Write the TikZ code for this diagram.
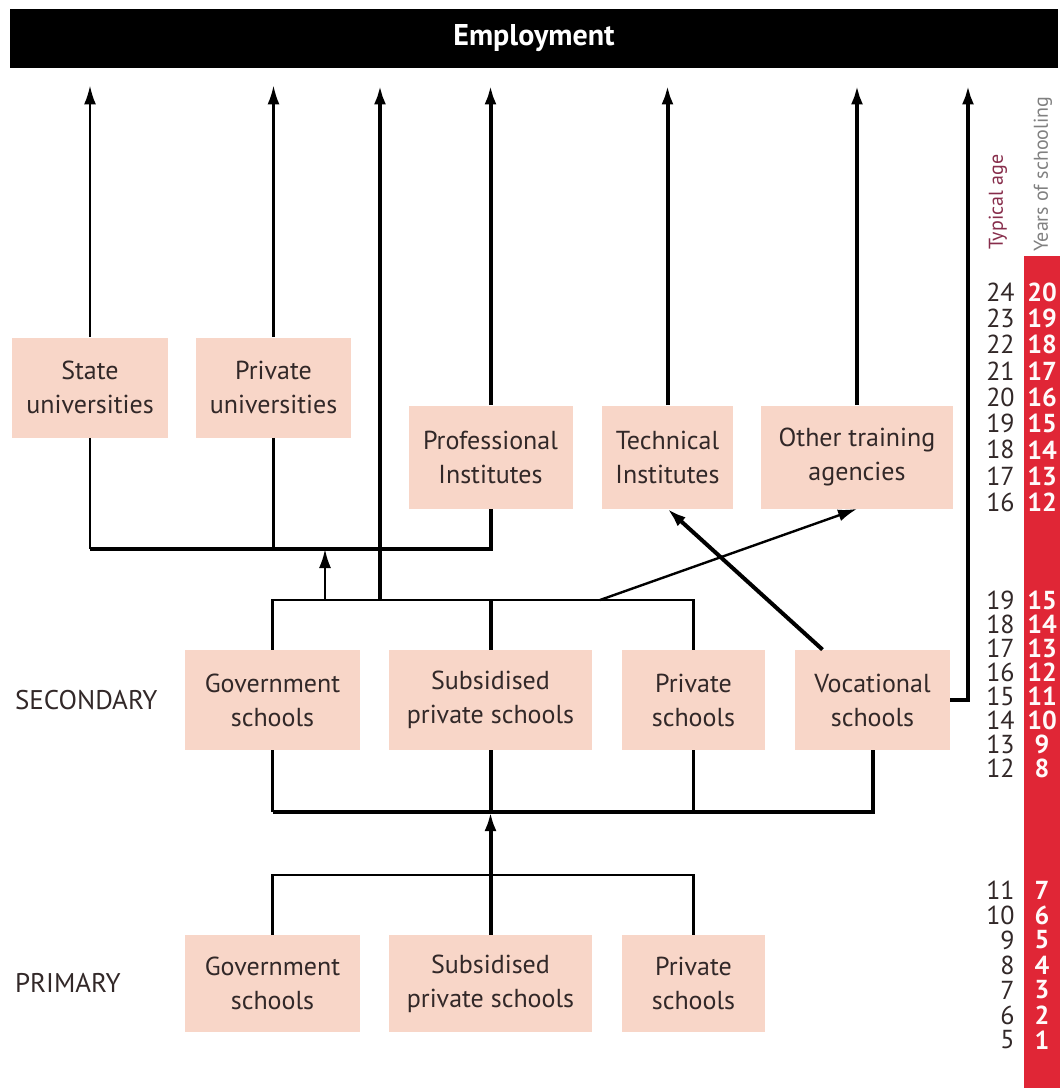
\documentclass[tikz,border=0pt]{standalone}
\usepackage{fontspec}
\setmainfont{PT Sans}
\usepackage{xcolor}
\usetikzlibrary{calc,arrows.meta,positioning}

\definecolor{boxpink}{RGB}{248,214,200}
\definecolor{barred}{RGB}{224,38,54}
\definecolor{agecol}{RGB}{135,45,75}
\definecolor{inktext}{RGB}{50,40,40}

\begin{document}
\begin{tikzpicture}[x=0.5pt,y=-0.5pt,>={Latex[length=9.5pt,width=6pt]},
  box/.style={fill=boxpink,align=center,text=inktext,inner sep=0pt,
    minimum height=50pt,font=\fontsize{13}{17}\selectfont},
  level/.style={anchor=west,text=inktext,font=\fontsize{13.5}{16}\selectfont},
  agenum/.style={anchor=east,text=inktext,inner sep=0pt,font=\fontsize{13}{13}\selectfont},
  yrnum/.style={text=white!92!pink,inner sep=0pt,font=\bfseries\fontsize{13}{13}\selectfont},
  link/.style={line width=1.2pt},
  trunk/.style={line width=2pt},
  up/.style={->,shorten >=8.5pt}]
  \useasboundingbox (0,0) rectangle (1060,1088);

  % Employment bar
  \node[fill=black,text=white,inner sep=0pt,minimum width=524pt,minimum height=29.5pt,
    font=\bfseries\fontsize{15}{18}\selectfont] (emp) at (534,38.5) {Employment};

  % tertiary level
  \node[box,minimum width=78pt] (suniv) at (90,387.5) {State\\universities};
  \node[box,minimum width=77.5pt] (puniv) at (273.5,387.5) {Private\\universities};
  \node[box,minimum width=82pt,minimum height=51.5pt] (prof) at (490.5,457) {Professional\\Institutes};
  \node[box,minimum width=65.5pt,minimum height=51.5pt] (tech) at (667.5,457) {Technical\\Institutes};
  \node[box,minimum width=96pt,minimum height=51.5pt] (other) at (857,457) {Other training\\agencies};

  % secondary level
  \node[level] (seclab) at (8,700) {SECONDARY};
  \node[box,minimum width=87.5pt] (sgov) at (272.5,700) {Government\\schools};
  \node[box,minimum width=101.5pt] (ssub) at (490.5,700) {Subsidised\\private schools};
  \node[box,minimum width=71.5pt] (spriv) at (693.5,700) {Private\\schools};
  \node[box,minimum width=77.5pt] (svoc) at (872.5,700) {Vocational\\schools};

  % primary level
  \node[level] (prilab) at (8,983) {PRIMARY};
  \node[box,minimum width=87.5pt,minimum height=48.5pt] (pgov) at (272.5,983.5) {Government\\schools};
  \node[box,minimum width=101.5pt,minimum height=48.5pt] (psub) at (490.5,983.5) {Subsidised\\private schools};
  \node[box,minimum width=71.5pt,minimum height=48.5pt] (ppriv) at (693.5,983.5) {Private\\schools};

  % bus bars
  \coordinate (tbar) at (0,549);
  \coordinate (sbar) at (0,600);
  \coordinate (lbar) at (0,812);
  \coordinate (pbar) at (0,875);
  \coordinate (tfoot) at (325,600);
  \coordinate (mid) at (380,600);
  \coordinate (dfoot) at (600,600);
  \coordinate (vcol) at (968,700);

  % into employment
  \foreach \n in {suniv,puniv}
    \draw[link,up] (\n) -- (\n |- emp.south);
  \foreach \n in {prof,tech,other}
    \draw[trunk,up] (\n) -- (\n |- emp.south);
  \draw[trunk,up] (mid) -- (mid |- emp.south);
  \draw[trunk,up] (svoc.east) -- (vcol) -- (vcol |- emp.south);

  % universities and professional institutes joined
  \draw[link] (suniv.south) -- (suniv.south |- tbar);
  \draw[link] (puniv.south) -- (puniv.south |- tbar);
  \draw[trunk] (suniv.south |- tbar) -- (prof.south |- tbar) -- (prof.south);
  \draw[link,->] (tfoot) -- (tfoot |- tbar);

  % secondary upwards
  \draw[link] (sgov.north) -- (sgov.north |- sbar) -- (spriv.north |- sbar) -- (spriv.north);
  \draw[trunk] (ssub.north) -- (ssub.north |- sbar);
  \draw[link,->] (dfoot) -- (other.south);
  \draw[trunk,->] ($(svoc.north)+(-50,0)$) -- (tech.south);

  % secondary downwards
  \draw[link] (sgov.south) -- (sgov.south |- lbar);
  \draw[link] (spriv.south) -- (spriv.south |- lbar);
  \draw[trunk] (ssub.south) -- (ssub.south |- lbar);
  \draw[trunk] (sgov.south |- lbar) -- (svoc.south |- lbar) -- (svoc.south);

  % primary upwards
  \draw[link] (pgov.north) -- (pgov.north |- pbar) -- (ppriv.north |- pbar) -- (ppriv.north);
  \draw[trunk] (psub.north) -- (psub.north |- pbar);
  \draw[trunk,->] (psub.north |- pbar) -- (ssub.south |- lbar);

  % age scale
  \fill[barred] (1024,256) rectangle (1060,1088);
  \node[rotate=90,anchor=west,text=agecol,inner sep=0pt,font=\fontsize{10}{12}\selectfont]
    (agehead) at (998,250) {Typical age};
  \node[rotate=90,anchor=west,text=gray,inner sep=0pt,font=\fontsize{10}{12}\selectfont]
    (yrhead) at (1043,252) {Years of schooling};
  \foreach \a in {16,...,24} {
    \pgfmathsetmacro\yy{292+26.3*(24-\a)}
    \node[agenum] (ageA\a) at (1015,\yy) {\a};
    \node[yrnum] (yrA\a) at (1042,\yy) {\the\numexpr\a-4\relax};
  }
  \foreach \a in {12,...,19} {
    \pgfmathsetmacro\yy{600+24*(19-\a)}
    \node[agenum] (ageB\a) at (1015,\yy) {\a};
    \node[yrnum] (yrB\a) at (1042,\yy) {\the\numexpr\a-4\relax};
  }
  \foreach \a in {5,...,11} {
    \pgfmathsetmacro\yy{890+25*(11-\a)}
    \node[agenum] (ageC\a) at (1015,\yy) {\a};
    \node[yrnum] (yrC\a) at (1042,\yy) {\the\numexpr\a-4\relax};
  }
\end{tikzpicture}
\end{document}
